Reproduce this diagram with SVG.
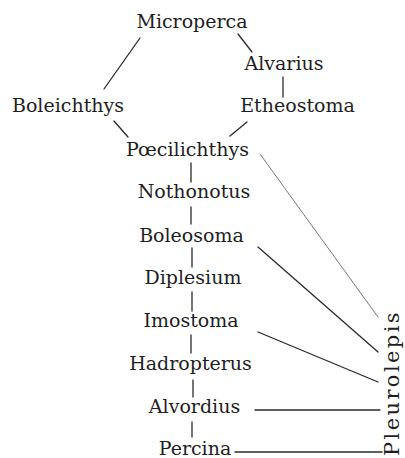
<svg xmlns="http://www.w3.org/2000/svg" width="405" height="458" viewBox="0 0 405 458">
<style>
.n{font-family:"DejaVu Serif","Liberation Serif",serif;font-size:19px;fill:#1e1e1e;text-anchor:middle}
.p{font-family:"DejaVu Serif","Liberation Serif",serif;font-size:21px;fill:#1e1e1e;letter-spacing:2.4px}
.c line{stroke:#2a2a2a;stroke-width:1.3;stroke-linecap:round}
.c line.t{stroke-width:0.8;stroke:#555}
</style>
<rect width="405" height="458" fill="#fff"/>
<g class="c" id="connectors">
<line x1="140" y1="38" x2="104" y2="89"/>
<line x1="238" y1="34" x2="252" y2="52"/>
<line x1="283" y1="77" x2="283" y2="97"/>
<line x1="114" y1="121" x2="128" y2="137"/>
<line x1="247" y1="122" x2="230" y2="136"/>
<line x1="191" y1="163" x2="191" y2="182"/>
<line x1="191" y1="207" x2="191" y2="224"/>
<line x1="192" y1="248" x2="192" y2="267"/>
<line x1="192" y1="292" x2="192" y2="311"/>
<line x1="191" y1="335" x2="191" y2="353"/>
<line x1="193" y1="380" x2="193" y2="397"/>
<line x1="192" y1="422" x2="192" y2="437"/>
<line class="t" x1="260" y1="154" x2="378" y2="317"/>
<line x1="258" y1="247" x2="378" y2="352"/>
<line x1="258" y1="332" x2="378" y2="382"/>
<line x1="255" y1="410" x2="380" y2="410"/>
<line x1="235" y1="452" x2="382" y2="452"/>
</g>
<g id="microperca"><text class="n" x="192" y="28">Microperca</text></g>
<g id="alvarius"><text class="n" x="284" y="70">Alvarius</text></g>
<g id="boleichthys"><text class="n" x="68" y="112">Boleichthys</text></g>
<g id="etheostoma"><text class="n" x="297.5" y="112">Etheostoma</text></g>
<g id="poecilichthys"><text class="n" x="187.5" y="156">Pœcilichthys</text></g>
<g id="nothonotus"><text class="n" x="194" y="198">Nothonotus</text></g>
<g id="boleosoma"><text class="n" x="191.5" y="242">Boleosoma</text></g>
<g id="diplesium"><text class="n" x="193" y="284">Diplesium</text></g>
<g id="imostoma"><text class="n" x="191" y="327">Imostoma</text></g>
<g id="hadropterus"><text class="n" x="190.5" y="370">Hadropterus</text></g>
<g id="alvordius"><text class="n" x="194.5" y="413">Alvordius</text></g>
<g id="percina"><text class="n" x="195" y="455">Percina</text></g>
<g id="pleurolepis"><text class="p" transform="translate(399,456) rotate(-90)">Pleurolepis</text></g>
</svg>
